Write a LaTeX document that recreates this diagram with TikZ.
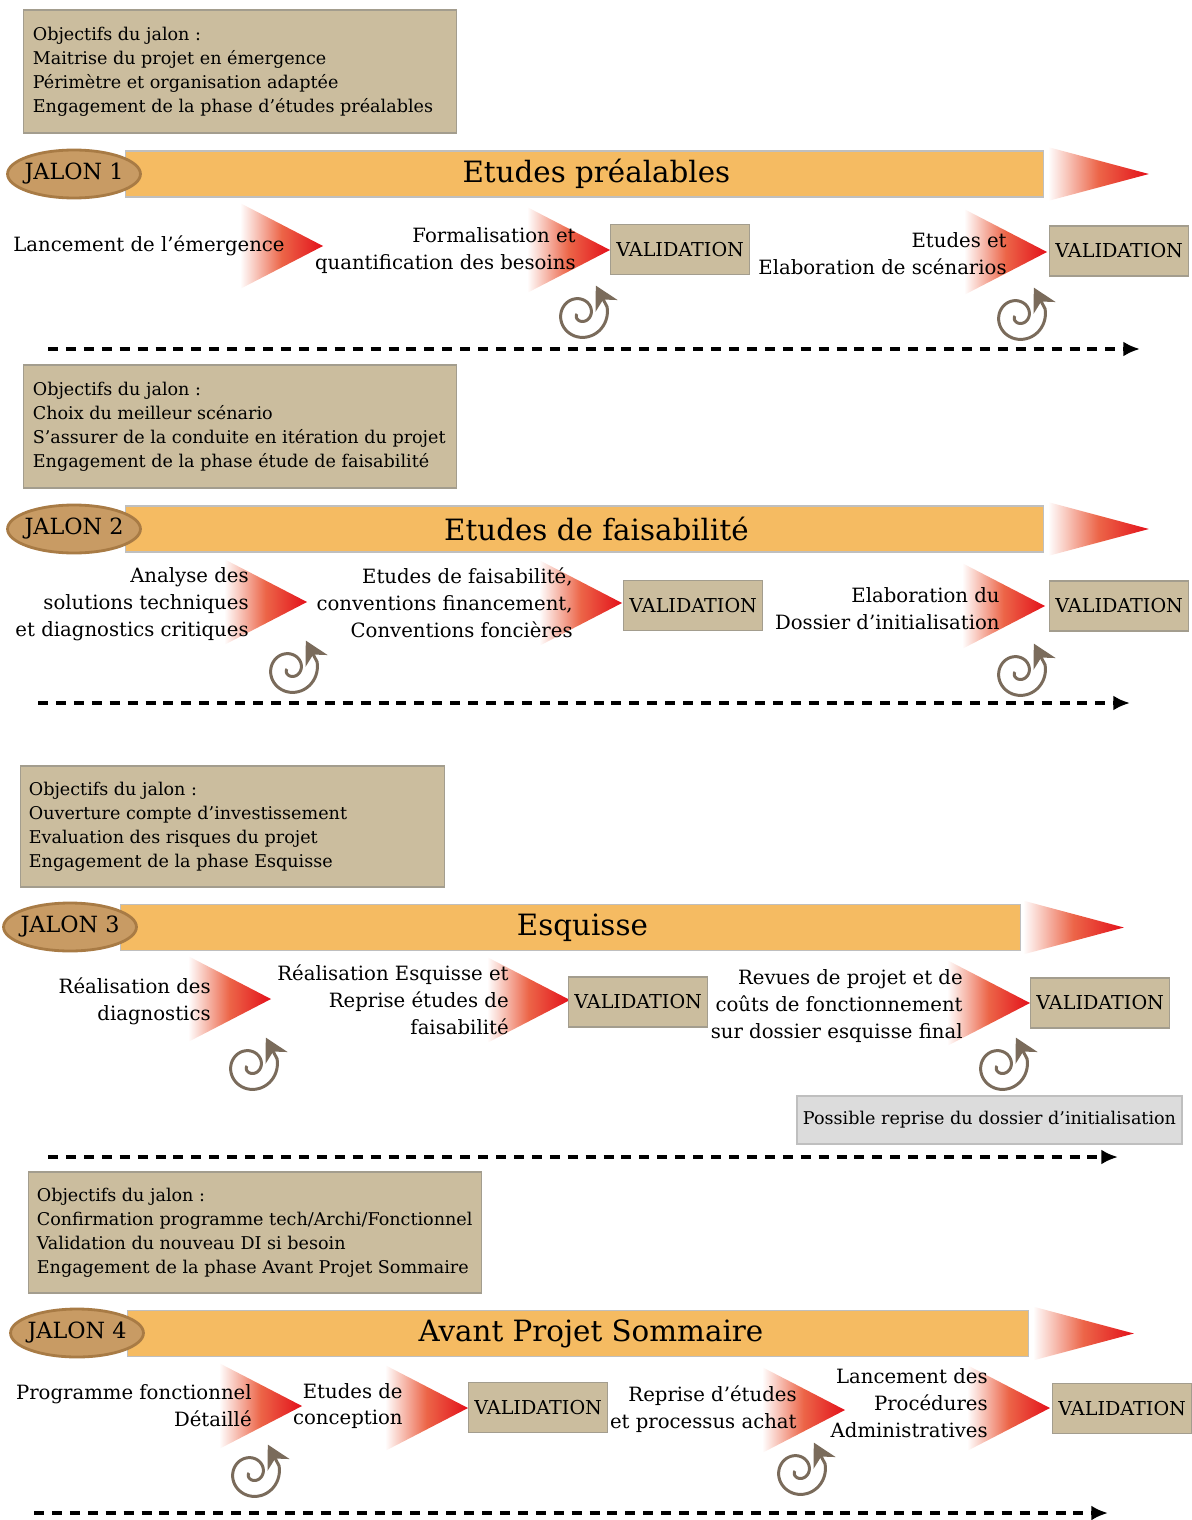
\documentclass[tikz,border=0pt]{standalone}
\usepackage{fontspec}
\setmainfont{DejaVu Serif}
\usetikzlibrary{shapes.geometric,arrows.meta}

\definecolor{fondbeige}{HTML}{CBBD9E}
\definecolor{bordbeige}{HTML}{A39D8E}
\definecolor{fondjalon}{HTML}{C89B64}
\definecolor{bordjalon}{HTML}{A87B45}
\definecolor{orangebande}{HTML}{F5BB62}
\definecolor{rouge}{HTML}{E3101A}
\definecolor{saumon}{HTML}{EC6548}
\definecolor{brunspirale}{HTML}{7A6B5B}
\definecolor{grisclair}{HTML}{DCDCDC}

\tikzset{
  objectif/.style={draw=bordbeige, fill=fondbeige, line width=0.6pt, inner sep=0pt},
  objtexte/.style={anchor=west, align=left, inner sep=0pt, font=\fontsize{10}{13.6}\selectfont},
  jalon/.style={ellipse, draw=bordjalon, fill=fondjalon, line width=1.6pt, minimum width=2.64cm, minimum height=0.96cm, inner xsep=-0.05cm, inner ysep=0pt, font=\fontsize{12.7}{15}\selectfont},
  bande/.style={draw=black!25, fill=orangebande, line width=0.6pt, minimum height=0.92cm, inner sep=0pt},
  titre/.style={inner sep=0pt, font=\fontsize{16.7}{20}\selectfont},
  etape/.style={anchor=east, align=right, inner sep=0pt, font=\fontsize{11.2}{15.3}\selectfont},
  valid/.style={anchor=west, draw=bordbeige, fill=fondbeige, line width=0.8pt, minimum width=2.78cm, minimum height=1cm, inner sep=0pt, font=\fontsize{10.9}{13}\selectfont},
  reprise/.style={draw=black!25, fill=grisclair, line width=0.8pt, minimum width=7.7cm, minimum height=0.96cm, inner sep=0pt, font=\fontsize{10}{13}\selectfont},
  temps/.style={line width=2pt, dash pattern=on 5.7pt off 4.5pt, -{Latex[length=9.5pt,width=8.5pt]}},
  spirale/.style={draw=brunspirale, line width=1.7pt, -{Stealth[length=13pt,width=14pt,inset=4pt]}},
  degrade/.style={left color=white, right color=rouge, middle color=saumon},
  fleche/.pic={\shade[degrade] (-83,-43) -- (0,0) -- (-83,43) -- cycle;},
  pointe/.pic={\shade[degrade] (0,-27) -- (101,0) -- (0,27) -- cycle;},
  boucle/.pic={\draw[spirale] plot[domain=-180:375, samples=80, smooth] ({(3+(\x+180)*25/555)*cos(\x)}, {-(3+(\x+180)*25/555)*sin(\x)}) -- ++({24*cos(118)},{-24*sin(118)});}
}

\begin{document}
\begin{tikzpicture}[x=0.02cm, y=-0.02cm]
\useasboundingbox (0,0) rectangle (1192,1520);

% jalon 1
\node[objectif, minimum width=8.68cm, minimum height=2.46cm] (obj1) at (240,71.5) {};
\node[objtexte] (txtobj1) at ([xshift=0.2cm]obj1.west) {Objectifs du jalon :\\Maitrise du projet en émergence\\Périmètre et organisation adaptée\\Engagement de la phase d’études préalables};
\node[bande, minimum width=18.36cm, anchor=west] (bande1) at (125,174) {};
\node[titre] (titre1) at ([xshift=0.24cm]bande1.center) {Etudes préalables};
\pic at ([xshift=0.08cm]bande1.east) {pointe};
\node[jalon] (jalon1) at (74,174) {JALON 1};
\pic at (323,246) {fleche};
\pic at (610,250) {fleche};
\pic at (1047,252) {fleche};
\node[etape] (e11) at (285,246) {Lancement de l’émergence};
\node[etape] (e12) at (576,250.5) {Formalisation et\\quantification des besoins};
\node[valid] (v11) at (610,249.5) {VALIDATION};
\node[etape] (e13) at (1007,253.5) {Etudes et\\Elaboration de scénarios};
\node[valid] (v12) at (1049,251) {VALIDATION};
\pic at (580,314) {boucle};
\pic at (1018,316) {boucle};
\coordinate (d1a) at (48,349);
\coordinate (d1b) at (1140,349);
\draw[temps] (d1a) -- (d1b);

% jalon 2
\node[objectif, minimum width=8.68cm, minimum height=2.46cm] (obj2) at (240,426.5) {};
\node[objtexte] (txtobj2) at ([xshift=0.2cm]obj2.west) {Objectifs du jalon :\\Choix du meilleur scénario\\S’assurer de la conduite en itération du projet\\Engagement de la phase étude de faisabilité};
\node[bande, minimum width=18.36cm, anchor=west] (bande2) at (125,529) {};
\node[titre] (titre2) at ([xshift=0.24cm]bande2.center) {Etudes de faisabilité};
\pic at ([xshift=0.08cm]bande2.east) {pointe};
\node[jalon] (jalon2) at (74,529) {JALON 2};
\pic at (307,602) {fleche};
\pic at (622,603) {fleche};
\pic at (1045,606) {fleche};
\node[etape] (e21) at (249,604) {Analyse des\\solutions techniques\\et diagnostics critiques};
\node[etape] (e22) at (573,603) {Etudes de faisabilité,\\conventions financement,\\Conventions foncières};
\node[valid] (v21) at (623,605.5) {VALIDATION};
\node[etape] (e23) at (1000,608.5) {Elaboration du\\Dossier d’initialisation};
\node[valid] (v22) at (1049,606) {VALIDATION};
\pic at (290,669) {boucle};
\pic at (1018,672) {boucle};
\coordinate (d2a) at (38,703);
\coordinate (d2b) at (1130,703);
\draw[temps] (d2a) -- (d2b);

% jalon 3
\node[objectif, minimum width=8.5cm, minimum height=2.42cm] (obj3) at (232.5,826.5) {};
\node[objtexte] (txtobj3) at ([xshift=0.18cm]obj3.west) {Objectifs du jalon :\\Ouverture compte d’investissement\\Evaluation des risques du projet\\Engagement de la phase Esquisse};
\node[bande, minimum width=18cm, anchor=west] (bande3) at (120,927.5) {};
\node[titre] (titre3) at ([xshift=0.24cm]bande3.center) {Esquisse};
\pic at ([xshift=0.04cm]bande3.east) {pointe};
\node[jalon] (jalon3) at (70,927) {JALON 3};
\pic at (271,999) {fleche};
\pic at (570,1000) {fleche};
\pic at (1030,1003) {fleche};
\node[etape] (e31) at (211,1001) {Réalisation des\\diagnostics};
\node[etape] (e32) at (509,1000) {Réalisation Esquisse et\\Reprise études de\\faisabilité};
\node[valid] (v31) at (568,1002) {VALIDATION};
\node[etape] (e33) at (963,1006) {Revues de projet et de\\coûts de fonctionnement\\sur dossier esquisse final};
\node[valid] (v32) at (1030,1003) {VALIDATION};
\pic at (250,1066) {boucle};
\pic at (1000,1066) {boucle};
\node[reprise] (rep3) at (989.5,1120) {Possible reprise du dossier d’initialisation};
\coordinate (d3a) at (48,1157);
\coordinate (d3b) at (1118,1157);
\draw[temps] (d3a) -- (d3b);

% jalon 4
\node[objectif, minimum width=9.08cm, minimum height=2.42cm] (obj4) at (255,1232.5) {};
\node[objtexte] (txtobj4) at ([xshift=0.18cm]obj4.west) {Objectifs du jalon :\\Confirmation programme tech/Archi/Fonctionnel\\Validation du nouveau DI si besoin\\Engagement de la phase Avant Projet Sommaire};
\node[bande, minimum width=18.02cm, anchor=west] (bande4) at (127,1333.5) {};
\node[titre] (titre4) at ([xshift=0.26cm]bande4.center) {Avant Projet Sommaire};
\pic at ([xshift=0.08cm]bande4.east) {pointe};
\node[jalon] (jalon4) at (77,1333) {JALON 4};
\pic at (302,1406) {fleche};
\pic at (468,1408) {fleche};
\pic at (845,1410) {fleche};
\pic at (1050,1408) {fleche};
\node[etape] (e41) at (252,1406) {Programme fonctionnel\\Détaillé};
\node[etape] (e42) at (403,1406) {Etudes de\\conception};
\node[valid] (v41) at (468,1407.5) {VALIDATION};
\node[etape] (e43) at (797,1409) {Reprise d’études\\et processus achat};
\node[etape] (e44) at (988,1403) {Lancement des\\Procédures\\Administratives};
\node[valid] (v42) at (1052,1408.5) {VALIDATION};
\pic at (252,1473) {boucle};
\pic at (798,1471) {boucle};
\coordinate (d4a) at (34,1513);
\coordinate (d4b) at (1108,1513);
\draw[temps] (d4a) -- (d4b);
\end{tikzpicture}
\end{document}
